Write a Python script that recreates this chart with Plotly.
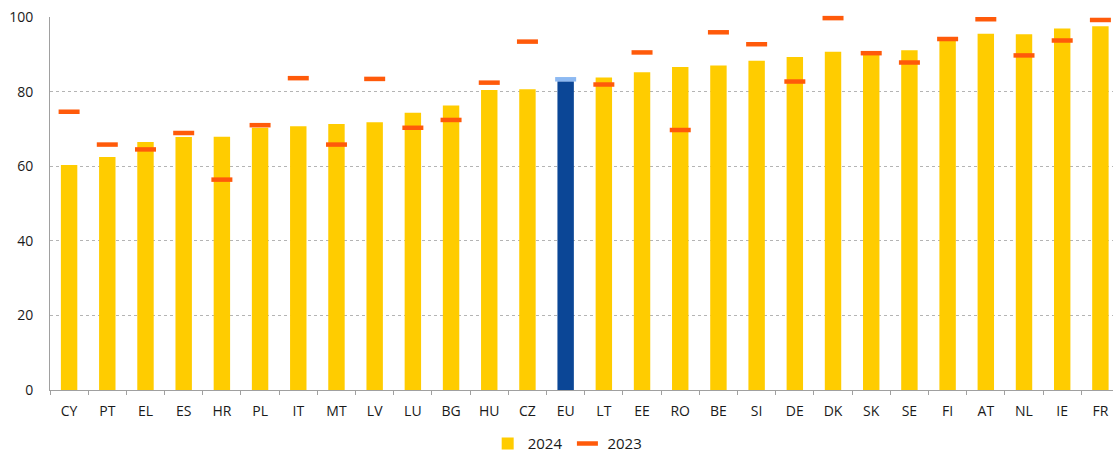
import plotly.graph_objects as go

countries = ["CY", "PT", "EL", "ES", "HR", "PL", "IT", "MT", "LV", "LU", "BG", "HU", "CZ", "EU",
             "LT", "EE", "RO", "BE", "SI", "DE", "DK", "SK", "SE", "FI", "AT", "NL", "IE", "FR"]
values_2024 = [60.3, 62.5, 66.5, 67.8, 67.9, 70.3, 70.7, 71.3, 71.8, 74.3, 76.3, 80.4, 80.6, 82.8,
               83.8, 85.2, 86.6, 87.0, 88.3, 89.3, 90.7, 90.0, 91.1, 93.8, 95.5, 95.4, 96.9, 97.5]
values_2023 = [74.6, 65.8, 64.5, 68.9, 56.4, 71.0, 83.6, 65.8, 83.4, 70.3, 72.4, 82.4, 93.4, 83.3,
               81.9, 90.5, 69.7, 95.9, 92.7, 82.7, 99.7, 90.3, 87.8, 94.1, 99.4, 89.7, 93.7, 99.2]

YELLOW = "#FFCC00"
BLUE = "#0B4696"
ORANGE = "#FF5A0A"
LIGHT_BLUE = "#8DB9F2"

bar_colors = [BLUE if c == "EU" else YELLOW for c in countries]
dash_colors = [LIGHT_BLUE if c == "EU" else ORANGE for c in countries]

fig = go.Figure()
fig.add_trace(go.Bar(
    x=countries, y=values_2024, name="2024",
    marker=dict(color=bar_colors, line=dict(width=0)),
))
fig.add_trace(go.Scatter(
    x=countries, y=values_2023, name="2023", mode="markers",
    marker=dict(symbol="line-ew", size=15, color=dash_colors,
                line=dict(width=4.5, color=dash_colors)),
    cliponaxis=False,
))

fig.update_layout(
    width=1113, height=452,
    margin=dict(l=50, r=0, t=17, b=62, autoexpand=False),
    paper_bgcolor="white", plot_bgcolor="white",
    font=dict(family="Open Sans", size=14, color="#1a1a1a"),
    bargap=0.57,
    showlegend=True,
    legend=dict(orientation="h", x=0.487, xanchor="center",
                yref="container", y=0.018, yanchor="middle",
                font=dict(size=15), itemwidth=30, traceorder="normal"),
)
fig.update_xaxes(
    type="category", range=[-0.5, 27.33],
    showline=True, linecolor="#a0a0a0", linewidth=1,
    ticks="outside", tickson="boundaries", ticklen=4, tickcolor="#a0a0a0",
    showgrid=False, ticklabelstandoff=8,
)
fig.update_yaxes(
    range=[0, 100], tickvals=[0, 20, 40, 60, 80, 100],
    showline=True, linecolor="#a0a0a0", linewidth=1,
    showgrid=True, gridcolor="#b4b4b4", griddash="dot", gridwidth=1,
    zeroline=False, ticklabelstandoff=13,
)

fig.write_html("out.html")
